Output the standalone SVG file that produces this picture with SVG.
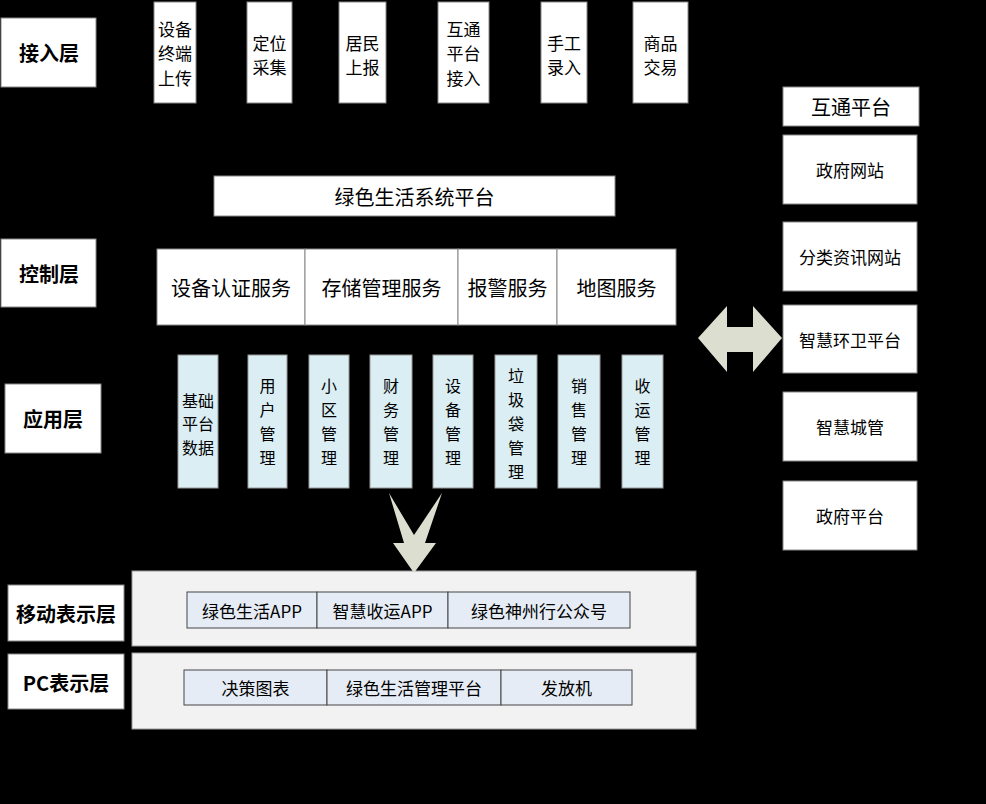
<svg xmlns="http://www.w3.org/2000/svg" width="986" height="804" viewBox="0 0 986 804">
<style>
text{font-family:"Noto Sans CJK SC","Liberation Sans",sans-serif;fill:#000;text-anchor:middle;dominant-baseline:central}
.lbl{font-size:20px;font-weight:bold}
.w{fill:#fff;stroke:#888;stroke-width:1}
.in{font-size:17px}
.svc{font-size:20px}
.rt{font-size:17px}
.ap{fill:#daeef3;stroke:#999;stroke-width:1}
.apt{font-size:16px}
.pan{fill:#f2f2f2;stroke:#999;stroke-width:1}
.it{fill:#e6ecf5;stroke:#444;stroke-width:1}
.itt{font-size:17px}
.arr{fill:#dcdfcf}
</style>
<rect width="986" height="804" fill="#000"/>

<g id="layer-access">
<rect class="w" x="1" y="18" width="95" height="69"/>
<text class="lbl" x="49" y="52">接入层</text>
</g>
<g id="layer-control">
<rect class="w" x="1" y="239" width="95" height="68"/>
<text class="lbl" x="49" y="273">控制层</text>
</g>
<g id="layer-app">
<rect class="w" x="5" y="384" width="96" height="69"/>
<text class="lbl" x="53" y="418">应用层</text>
</g>
<g id="layer-mobile">
<rect class="w" x="8" y="585" width="116" height="56"/>
<text class="lbl" x="66" y="613">移动表示层</text>
</g>
<g id="layer-pc">
<rect class="w" x="8" y="654" width="116" height="55"/>
<text class="lbl" x="66" y="682">PC表示层</text>
</g>

<g id="in-device">
<rect class="w" x="154" y="2" width="42" height="101"/>
<text class="in" x="175" y="28">设备</text>
<text class="in" x="175" y="52">终端</text>
<text class="in" x="175" y="77">上传</text>
</g>
<g id="in-locate">
<rect class="w" x="247" y="2" width="45" height="101"/>
<text class="in" x="269.5" y="42">定位</text>
<text class="in" x="269.5" y="66">采集</text>
</g>
<g id="in-resident">
<rect class="w" x="339" y="2" width="47" height="101"/>
<text class="in" x="362.5" y="42">居民</text>
<text class="in" x="362.5" y="66">上报</text>
</g>
<g id="in-interop">
<rect class="w" x="438" y="2" width="51" height="101"/>
<text class="in" x="463.5" y="28">互通</text>
<text class="in" x="463.5" y="52">平台</text>
<text class="in" x="463.5" y="77">接入</text>
</g>
<g id="in-manual">
<rect class="w" x="541" y="2" width="46" height="101"/>
<text class="in" x="564" y="42">手工</text>
<text class="in" x="564" y="66">录入</text>
</g>
<g id="in-trade">
<rect class="w" x="633" y="2" width="55" height="101"/>
<text class="in" x="660.5" y="42">商品</text>
<text class="in" x="660.5" y="66">交易</text>
</g>

<g id="platform">
<rect class="w" x="214" y="176" width="401" height="40"/>
<text class="svc" x="414.5" y="196">绿色生活系统平台</text>
</g>
<g id="svc-auth">
<rect class="w" x="157" y="249" width="148" height="76"/>
<text class="svc" x="231" y="287">设备认证服务</text>
</g>
<g id="svc-storage">
<rect class="w" x="305" y="249" width="153" height="76"/>
<text class="svc" x="381.5" y="287">存储管理服务</text>
</g>
<g id="svc-alarm">
<rect class="w" x="458" y="249" width="99" height="76"/>
<text class="svc" x="507.5" y="287">报警服务</text>
</g>
<g id="svc-map">
<rect class="w" x="557" y="249" width="119" height="76"/>
<text class="svc" x="616.5" y="287">地图服务</text>
</g>

<g id="app-base">
<rect class="ap" x="178" y="355" width="40" height="133"/>
<text class="apt" x="198" y="400">基础</text>
<text class="apt" x="198" y="423">平台</text>
<text class="apt" x="198" y="447">数据</text>
</g>
<g id="app-user">
<rect class="ap" x="248" y="355" width="39" height="133"/>
<text class="apt" x="267.5" y="385">用</text>
<text class="apt" x="267.5" y="409">户</text>
<text class="apt" x="267.5" y="433">管</text>
<text class="apt" x="267.5" y="457">理</text>
</g>
<g id="app-community">
<rect class="ap" x="309" y="355" width="40" height="133"/>
<text class="apt" x="329" y="385">小</text>
<text class="apt" x="329" y="409">区</text>
<text class="apt" x="329" y="433">管</text>
<text class="apt" x="329" y="457">理</text>
</g>
<g id="app-finance">
<rect class="ap" x="370" y="355" width="42" height="133"/>
<text class="apt" x="391" y="385">财</text>
<text class="apt" x="391" y="409">务</text>
<text class="apt" x="391" y="433">管</text>
<text class="apt" x="391" y="457">理</text>
</g>
<g id="app-device">
<rect class="ap" x="433" y="355" width="40" height="133"/>
<text class="apt" x="453" y="385">设</text>
<text class="apt" x="453" y="409">备</text>
<text class="apt" x="453" y="433">管</text>
<text class="apt" x="453" y="457">理</text>
</g>
<g id="app-bag">
<rect class="ap" x="495" y="355" width="42" height="133"/>
<text class="apt" x="516" y="375">垃</text>
<text class="apt" x="516" y="399">圾</text>
<text class="apt" x="516" y="423">袋</text>
<text class="apt" x="516" y="447">管</text>
<text class="apt" x="516" y="471">理</text>
</g>
<g id="app-sales">
<rect class="ap" x="558" y="355" width="42" height="133"/>
<text class="apt" x="579" y="385">销</text>
<text class="apt" x="579" y="409">售</text>
<text class="apt" x="579" y="433">管</text>
<text class="apt" x="579" y="457">理</text>
</g>
<g id="app-collect">
<rect class="ap" x="622" y="355" width="41" height="133"/>
<text class="apt" x="642.5" y="385">收</text>
<text class="apt" x="642.5" y="409">运</text>
<text class="apt" x="642.5" y="433">管</text>
<text class="apt" x="642.5" y="457">理</text>
</g>

<g id="panel-mobile">
<rect class="pan" x="132" y="571" width="564" height="75"/>
<rect class="it" x="187" y="592" width="130" height="36"/>
<text class="itt" x="252" y="610">绿色生活APP</text>
<rect class="it" x="317" y="592" width="131" height="36"/>
<text class="itt" x="382.5" y="610">智慧收运APP</text>
<rect class="it" x="448" y="592" width="182" height="36"/>
<text class="itt" x="539" y="610">绿色神州行公众号</text>
</g>
<g id="panel-pc">
<rect class="pan" x="132" y="653" width="564" height="76"/>
<rect class="it" x="184" y="670" width="143" height="35"/>
<text class="itt" x="255.5" y="687.5">决策图表</text>
<rect class="it" x="327" y="670" width="174" height="35"/>
<text class="itt" x="414" y="687.5">绿色生活管理平台</text>
<rect class="it" x="501" y="670" width="131" height="35"/>
<text class="itt" x="566.5" y="687.5">发放机</text>
</g>

<g id="ext-interop">
<rect class="w" x="783" y="87" width="136" height="39"/>
<text class="svc" x="851" y="106">互通平台</text>
</g>
<g id="ext-gov-web">
<rect class="w" x="783" y="135" width="134" height="69"/>
<text class="rt" x="850" y="169">政府网站</text>
</g>
<g id="ext-sort-web">
<rect class="w" x="783" y="222" width="134" height="69"/>
<text class="rt" x="850" y="256">分类资讯网站</text>
</g>
<g id="ext-sanitation">
<rect class="w" x="783" y="305" width="134" height="68"/>
<text class="rt" x="850" y="339">智慧环卫平台</text>
</g>
<g id="ext-city">
<rect class="w" x="783" y="392" width="134" height="69"/>
<text class="rt" x="850" y="426">智慧城管</text>
</g>
<g id="ext-gov">
<rect class="w" x="783" y="481" width="134" height="69"/>
<text class="rt" x="850" y="515">政府平台</text>
</g>

<g id="connectors">
<polygon class="arr" points="698,338 727,306 727,327 753,327 753,306 782,338 753,372 753,352 727,352 727,372"/>
<polygon class="arr" points="389,493 414,535 442,493 425,543 436,543 414,573 393,543 404,543"/>
</g>
</svg>
